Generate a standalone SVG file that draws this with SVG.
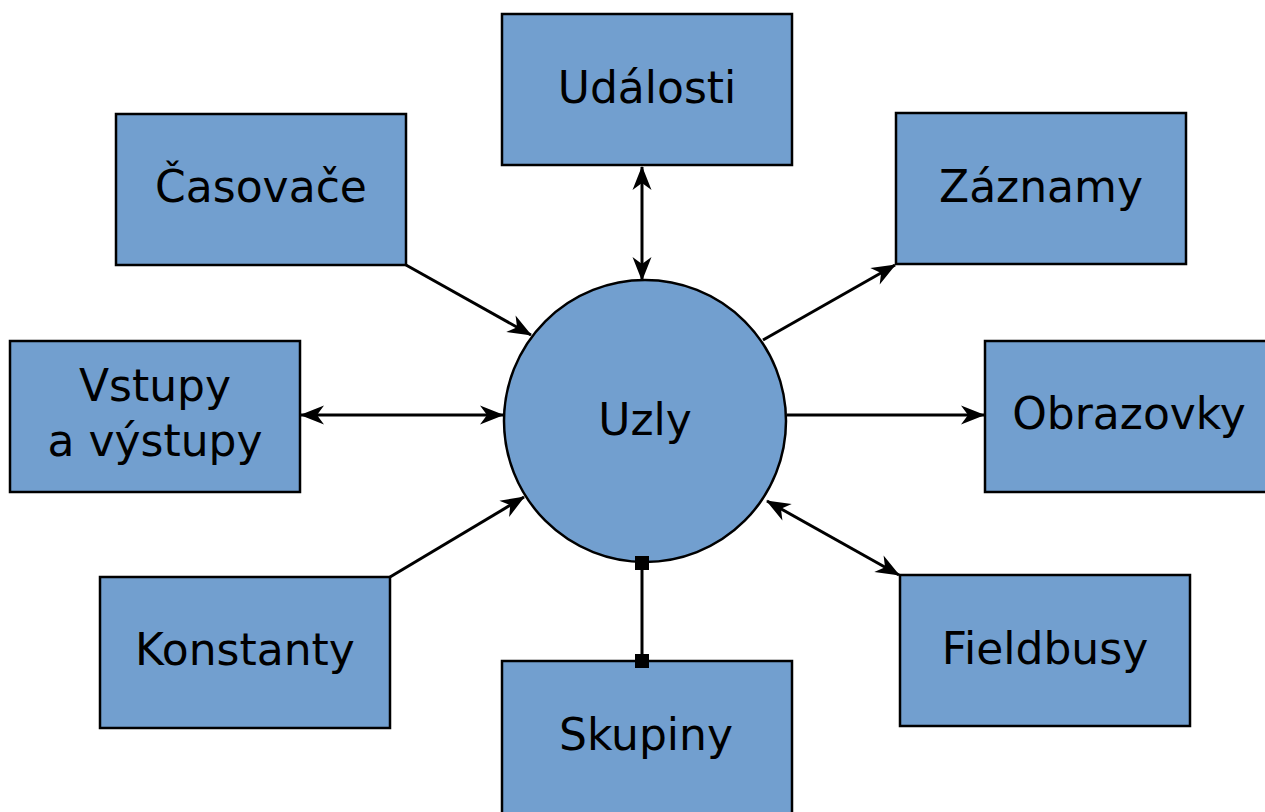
<svg xmlns="http://www.w3.org/2000/svg" width="1265" height="812" viewBox="0 0 1265 812">
<style>
.box{fill:#729fcf;stroke:#000;stroke-width:2.5}
.lbl{font-family:"DejaVu Sans",sans-serif;font-size:44px;fill:#000;text-anchor:middle}
.con{stroke:#000;stroke-width:3;fill:none}
</style>
<defs>
<marker id="ar" viewBox="-24 -11 26 22" refX="0" refY="0" markerWidth="26" markerHeight="22" markerUnits="userSpaceOnUse" orient="auto-start-reverse">
<path d="M1,0 L-23,-9.5 L-16,0 L-23,9.5 Z" fill="#000"/>
</marker>
</defs>
<rect width="1265" height="812" fill="#fff"/>
<g id="connectors">
<line class="con" x1="642" y1="167" x2="642" y2="280" marker-start="url(#ar)" marker-end="url(#ar)"/>
<line class="con" x1="406" y1="265" x2="531" y2="335" marker-end="url(#ar)"/>
<line class="con" x1="763" y1="340" x2="895" y2="265" marker-end="url(#ar)"/>
<line class="con" x1="301" y1="415" x2="503" y2="415" marker-start="url(#ar)" marker-end="url(#ar)"/>
<line class="con" x1="787" y1="415" x2="984" y2="415" marker-end="url(#ar)"/>
<line class="con" x1="390" y1="577" x2="524" y2="497" marker-end="url(#ar)"/>
<line class="con" x1="767" y1="501" x2="899" y2="575" marker-start="url(#ar)" marker-end="url(#ar)"/>
<line class="con" x1="642" y1="563" x2="642" y2="661"/>
</g>
<g id="uzly"><circle class="box" cx="645" cy="421" r="141"/><text class="lbl" x="645" y="435">Uzly</text></g>
<g id="udalosti"><rect class="box" x="502" y="14" width="290" height="151"/><text class="lbl" x="647" y="103">Události</text></g>
<g id="casovace"><rect class="box" x="116" y="114" width="290" height="151"/><text class="lbl" x="261" y="202">Časovače</text></g>
<g id="zaznamy"><rect class="box" x="896" y="113" width="290" height="151"/><text class="lbl" x="1041" y="202">Záznamy</text></g>
<g id="vstupy"><rect class="box" x="10" y="341" width="290" height="151"/><text class="lbl" x="155" y="401">Vstupy</text><text class="lbl" x="155" y="456">a výstupy</text></g>
<g id="obrazovky"><rect class="box" x="985" y="341" width="295" height="151"/><text class="lbl" x="1129" y="429">Obrazovky</text></g>
<g id="konstanty"><rect class="box" x="100" y="577" width="290" height="151"/><text class="lbl" x="245" y="665">Konstanty</text></g>
<g id="fieldbusy"><rect class="box" x="900" y="575" width="290" height="151"/><text class="lbl" x="1045" y="664">Fieldbusy</text></g>
<g id="skupiny"><rect class="box" x="502" y="661" width="290" height="160"/><text class="lbl" x="646" y="750">Skupiny</text></g>
<g id="squares"><rect x="635" y="556" width="14" height="14" fill="#000"/><rect x="635" y="654" width="14" height="14" fill="#000"/></g>
</svg>
